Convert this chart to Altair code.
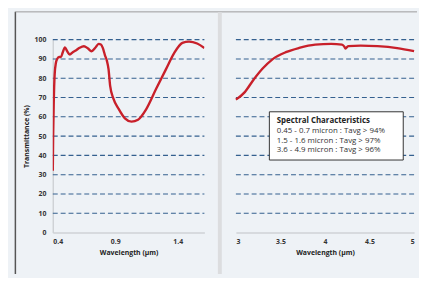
import altair as alt
import pandas as pd

# ---- data ----
left_wl = [0.400, 0.403, 0.408, 0.415, 0.425, 0.435, 0.450, 0.465, 0.480, 0.497,
           0.515, 0.536, 0.560, 0.584, 0.615, 0.649, 0.680, 0.710, 0.740, 0.767,
           0.785, 0.800, 0.817, 0.833, 0.846, 0.859, 0.885, 0.925, 0.977, 1.030,
           1.082, 1.148, 1.227, 1.306, 1.371, 1.437, 1.490, 1.555, 1.613]
left_t = [32, 50, 68, 82, 88, 90, 91, 91, 93.5, 96,
          94, 92.3, 93.5, 94.4, 95.8, 96.6, 95.5, 94, 95.8, 97.8,
          97.5, 95.7, 92, 89, 84.7, 76, 69.4, 64.3, 59.2, 57.5,
          58.5, 64, 74.5, 84.7, 93, 98.3, 99, 98, 95.7]

right_wl = [3.0, 3.1, 3.19, 3.3, 3.41, 3.56, 3.71, 3.89, 4.07, 4.19, 4.215, 4.23,
            4.26, 4.4, 4.59, 4.81, 5.0]
right_t = [68.9, 72.8, 78.7, 85, 89.8, 93.5, 95.7, 97.4, 97.8, 97.4, 96.5, 95.4,
           96.6, 96.9, 96.6, 95.6, 94]

grid_values = [10, 20, 30, 40, 50, 60, 70, 80, 90, 100]
y_ticks = [0, 10, 20, 30, 40, 50, 60, 70, 80, 90, 100]
left_ticks = [0.4, 0.9, 1.4]
right_ticks = [3, 3.5, 4, 4.5, 5]

box_title = "Spectral Characteristics"
box_lines = ["0.45 - 0.7 micron : Tavg > 94%",
             "1.5 - 1.6 micron : Tavg > 97%",
             "3.6 - 4.9 micron : Tavg > 96%"]

FONT = "Open Sans"
RED = "#c8202a"
GRID = "#34608f"
DOMAIN = "#cfd2d6"
FS = 7

left_df = pd.DataFrame({"wl": left_wl, "t": left_t})
right_df = pd.DataFrame({"wl": right_wl, "t": right_t})
grid_df = pd.DataFrame({"g": grid_values})

LW, RW, H = 154, 181, 196

yscale = alt.Scale(domain=[0, 100], nice=False, zero=True)

left_axis_y = alt.Axis(values=y_ticks, grid=False, ticks=False, domainColor=DOMAIN,
                       domainWidth=1.5, labelFont=FONT, labelFontSize=FS,
                       labelFontWeight="bold", labelColor="#333", labelPadding=7,
                       labelOverlap=False,
                       title="Transmittance (%)", titleFont=FONT, titleFontSize=FS,
                       titleFontWeight="bold", titleColor="#222", titlePadding=5)
right_axis_y = alt.Axis(values=y_ticks, grid=False, ticks=False, labels=False,
                        domain=False, title=None)


def grid_layer(w, axis):
    return alt.Chart(grid_df).mark_rule(color=GRID, strokeDash=[5, 3], strokeWidth=1.1).encode(
        y=alt.Y("g:Q", scale=yscale, axis=axis),
        x=alt.value(0), x2=alt.value(w))

# ---------- left panel ----------
left_axis_x = alt.Axis(values=left_ticks, format=".1f", grid=False, ticks=False,
                       domainColor=DOMAIN, domainWidth=1.5, labelFont=FONT,
                       labelFontSize=FS, labelFontWeight="bold", labelColor="#333",
                       labelPadding=5, labelOverlap=False,
                       title="Wavelength (µm)", titleFont=FONT,
                       titleFontSize=FS, titleFontWeight="bold", titleColor="#222",
                       titlePadding=4)

deco_df = pd.DataFrame({"k": [0]})
frame_v = alt.Chart(deco_df).mark_rule(color="#555", strokeWidth=1.5).encode(
    x=alt.value(-38), y=alt.value(-28.2), y2=alt.value(238))
frame_top = alt.Chart(deco_df).mark_rule(color="#9a9a9a", strokeWidth=1).encode(
    x=alt.value(-38), x2=alt.value(370), y=alt.value(-28.2))
band = alt.Chart(deco_df).mark_rule(color="#dcdddf", strokeWidth=4).encode(
    x=alt.value(169.7), y=alt.value(-27.7), y2=alt.value(238))

left_line = alt.Chart(left_df).mark_line(color=RED, strokeWidth=2.4, interpolate="monotone",
                                         clip=True).encode(
    x=alt.X("wl:Q", scale=alt.Scale(domain=[0.4, 1.613], nice=False, zero=False),
            axis=left_axis_x),
    y=alt.Y("t:Q", scale=yscale, axis=left_axis_y))

left = alt.layer(grid_layer(LW, left_axis_y), left_line, frame_v, frame_top, band).properties(
    width=LW, height=H)

# ---------- right panel ----------
right_axis_x = alt.Axis(values=right_ticks, format="~g", grid=False, ticks=False,
                        domainColor=DOMAIN, domainWidth=1.5, labelFont=FONT,
                        labelFontSize=FS, labelFontWeight="bold", labelColor="#333",
                        labelPadding=5, labelOverlap=False,
                        title="Wavelength (µm)", titleFont=FONT,
                        titleFontSize=FS, titleFontWeight="bold", titleColor="#222",
                        titlePadding=4)

right_line = alt.Chart(right_df).mark_line(color=RED, strokeWidth=2.4,
                                           interpolate="monotone").encode(
    x=alt.X("wl:Q", scale=alt.Scale(domain=[3, 5], nice=False, zero=False),
            axis=right_axis_x),
    y=alt.Y("t:Q", scale=yscale, axis=right_axis_y))

box = alt.Chart(deco_df).mark_rect(fill="white", stroke="#333", strokeWidth=1).encode(
    x=alt.value(34), x2=alt.value(170), y=alt.value(73.3), y2=alt.value(122.3))
box_t = alt.Chart(deco_df).mark_text(align="left", baseline="middle", font=FONT,
                                     fontSize=8, fontWeight="bold", color="#222").encode(
    x=alt.value(41.5), y=alt.value(83), text=alt.value(box_title))
box_body = alt.Chart(deco_df).mark_text(align="left", baseline="middle", font=FONT,
                                        fontSize=8, color="#333", lineHeight=9.5).encode(
    x=alt.value(41.5), y=alt.value(93.2), text=alt.value(box_lines))

right = alt.layer(grid_layer(RW, right_axis_y), right_line, box, box_t, box_body).properties(
    width=RW, height=H)

chart = alt.hconcat(left, right, spacing=32, bounds="flush").properties(
    padding={"left": 6.5, "top": 0, "right": 0, "bottom": 0},
    background="#eef2f6",
).configure_view(stroke=None)

chart.save("out.html", embed_options={"renderer": "svg", "actions": False})
